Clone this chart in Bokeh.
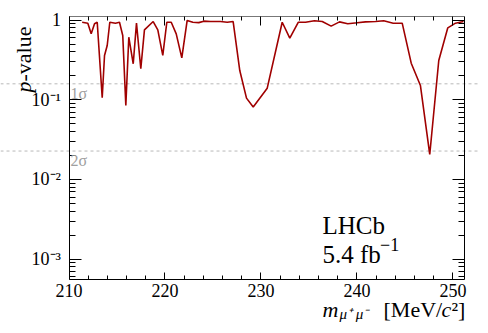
import math
from bokeh.plotting import figure
from bokeh.models import LinearAxis, LogAxis, FixedTicker, Label, Arrow, Range1d
from bokeh.embed import file_html
from bokeh.resources import INLINE

# ---- data ----
mass = [211.37, 211.96, 212.31, 212.66, 212.94, 213.46, 213.70, 213.98, 214.25, 214.84,
        215.26, 215.60, 215.92, 216.23, 216.69, 217.03, 217.48, 217.86, 218.77, 219.25,
        219.77, 220.19, 220.65, 221.17, 221.75, 222.31, 222.90, 223.52, 224.04, 224.74,
        225.78, 226.48, 227.10, 227.79, 228.49, 229.19, 230.65, 232.21, 233.00, 233.88,
        234.64, 235.57, 236.38, 237.31, 238.18, 239.04, 240.02, 240.89, 241.93, 242.79,
        243.77, 244.71, 245.65, 246.61, 247.58, 248.52, 249.46, 250.26, 251.10]
pvalue = [0.94, 0.915, 0.673, 0.90, 0.94, 0.106, 0.36, 0.48, 0.94, 0.915,
          0.94, 0.64, 0.085, 0.61, 0.283, 0.915, 0.245, 0.755, 0.96, 0.755,
          0.36, 0.94, 0.94, 0.673, 0.336, 0.99, 0.94, 0.93, 0.97, 0.96,
          0.96, 0.94, 0.96, 0.233, 0.105, 0.081, 0.14, 0.94, 0.593, 0.94,
          0.94, 0.98, 0.96, 0.84, 0.95, 0.90, 0.925, 0.95, 0.96, 0.98,
          0.915, 0.915, 0.288, 0.151, 0.0206, 0.311, 0.80, 0.915, 0.96]

x_ticks = [210, 220, 230, 240, 250]
x_minor_ticks = [212, 214, 216, 218, 222, 224, 226, 228, 232, 234, 236, 238, 242, 244, 246, 248]
y_ticks = [0.001, 0.01, 0.1, 1.0]
y_tick_labels = ["10⁻³", "10⁻²", "10⁻¹", "1"]
sigma_levels = [0.1587, 0.02275]
sigma_labels = ["1σ", "2σ"]

# axis box (data) and the canvas geometry around it
XMIN, XMAX = 210.0, 251.2
YMIN, YMAX = 5.56e-4, 1.11
y_minor_ticks = [k * 10.0 ** d for d in (-4, -3, -2, -1, 0) for k in range(2, 10)
                 if YMIN <= k * 10.0 ** d <= YMAX]
W, H = 480, 325
BOX_L, BOX_R, BOX_T, BOX_B = 68.5, 464.0, 16.0, 279.0   # pixel edges of the axis box
SERIF = "Liberation Serif"

xpx = (BOX_R - BOX_L) / (XMAX - XMIN)
lpx = (BOX_B - BOX_T) / (math.log10(YMAX) - math.log10(YMIN))
x0 = XMIN - BOX_L / xpx
x1 = XMAX + (W - BOX_R) / xpx
y1 = 10 ** (math.log10(YMAX) + BOX_T / lpx)
y0 = 10 ** (math.log10(YMIN) - (H - BOX_B) / lpx)

p = figure(width=W, height=H, x_range=Range1d(x0, x1), y_range=Range1d(y0, y1),
           y_axis_type="log", output_backend="svg", toolbar_location=None, min_border=0)
p.title.visible = False
p.outline_line_color = None
p.xgrid.visible = False
p.ygrid.visible = False
p.background_fill_color = "white"
p.border_fill_color = "white"


def style_axis(ax, major_in, minor_in, standoff=8, show_labels=True, line_color="black"):
    ax.axis_line_color = line_color
    ax.axis_line_width = 1
    ax.major_tick_line_color = "black"
    ax.minor_tick_line_color = "black"
    ax.major_tick_in = major_in
    ax.major_tick_out = 0
    ax.minor_tick_in = minor_in
    ax.minor_tick_out = 0
    ax.major_label_text_font = SERIF
    ax.major_label_text_color = "black"
    if show_labels:
        ax.major_label_text_font_size = "18px"
        ax.major_label_standoff = standoff
    else:
        ax.major_label_text_font_size = "1px"
        ax.major_label_text_alpha = 0
        ax.major_label_standoff = 0
        ax.axis_label_standoff = 0


xa = p.xaxis[0]
xa.ticker = FixedTicker(ticks=x_ticks, minor_ticks=x_minor_ticks)
xa.fixed_location = YMIN
xa.bounds = (XMIN, XMAX)
style_axis(xa, 7, 4, standoff=4)

ya = p.yaxis[0]
ya.ticker = FixedTicker(ticks=y_ticks, minor_ticks=y_minor_ticks)
ya.major_label_overrides = {v: s for v, s in zip(y_ticks, y_tick_labels)}
ya.fixed_location = XMIN
ya.bounds = (YMIN, YMAX)
style_axis(ya, 12, 6, standoff=8)

top = LinearAxis(ticker=FixedTicker(ticks=x_ticks, minor_ticks=x_minor_ticks),
                 fixed_location=YMAX, bounds=(XMIN, XMAX))
style_axis(top, 9, 4, show_labels=False, line_color="#777777")
p.add_layout(top, "above")
right = LogAxis(ticker=FixedTicker(ticks=y_ticks, minor_ticks=y_minor_ticks),
                fixed_location=XMAX, bounds=(YMIN, YMAX))
style_axis(right, 12, 6, show_labels=False)
p.add_layout(right, "right")

# sigma reference lines (span the whole canvas, as in the reference)
for lvl, lab_text in zip(sigma_levels, sigma_labels):
    p.add_layout(Arrow(end=None, x_start=x0, y_start=lvl, x_end=x1, y_end=lvl,
                       line_color="#b8b8b8", line_width=1, line_dash="3 3", level="underlay"))
    p.add_layout(Label(x=XMIN, y=lvl, x_offset=1.5, y_offset=-9.5, text=lab_text,
                       text_font=SERIF, text_font_size="16px", text_color="#a0a0a0",
                       text_baseline="alphabetic"))

p.line(mass, pvalue, line_color="#a00000", line_width=1.6)


def lab(text, x, y, xo, yo, size, italic=False, **kw):
    p.add_layout(Label(x=x, y=y, x_offset=xo, y_offset=yo, text=text, text_font=SERIF,
                       text_font_size=size, text_color="black",
                       text_font_style="italic" if italic else "normal",
                       text_baseline="alphabetic", **kw))


# y axis title
lab("-value", XMIN, YMAX, -45.3, -10, "22px", angle=math.pi / 2, text_align="right")
lab("p", XMIN, YMAX, -45.3, -65, "22px", italic=True, angle=math.pi / 2, text_align="right")

# x axis title
lab("m", XMIN, YMIN, 253.5, -30, "22px", italic=True)
lab("μ⁺ μ⁻", XMIN, YMIN, 270.5, -34, "15px", italic=True)
lab("[MeV/", XMIN, YMIN, 314.5, -30, "22px")
lab("c", XMIN, YMIN, 372.5, -30, "22px", italic=True)
lab("²]", XMIN, YMIN, 382.5, -30, "22px")

# LHCb label
lab("LHCb", XMIN, YMIN, 253.5, 54, "25px")
lab("5.4 fb", XMIN, YMIN, 253.5, 25.5, "25px")
lab("−1", XMIN, YMIN, 311, 35, "18px")

open("out.html", "w").write(file_html(p, INLINE))
